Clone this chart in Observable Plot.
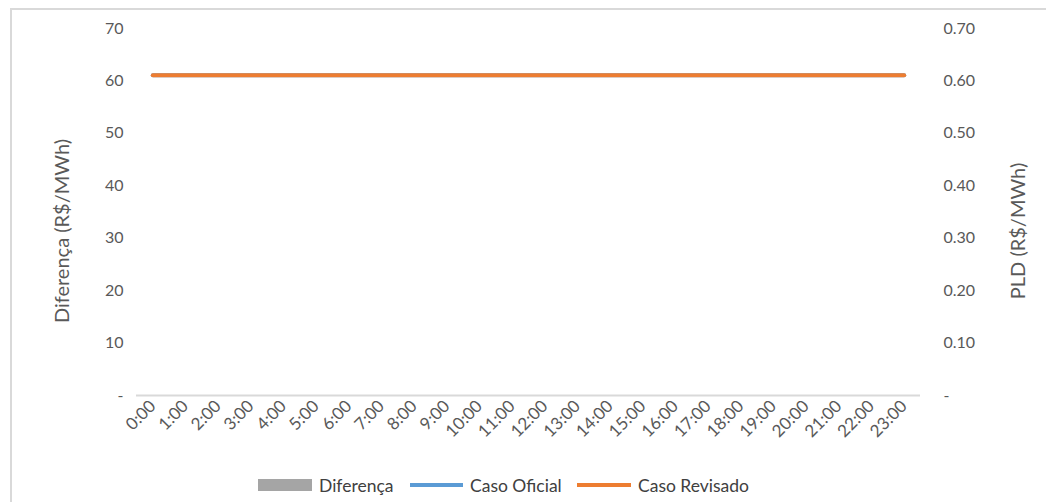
<!DOCTYPE html>
<html>
<head>
<meta charset="utf-8">
<script src="https://cdn.jsdelivr.net/npm/d3@7"></script>
<script src="https://cdn.jsdelivr.net/npm/@observablehq/plot@0.6"></script>
<style>
  html, body { margin: 0; padding: 0; background: #fff; }
  #wrap { position: relative; width: 1046px; height: 502px; overflow: hidden; font-family: Lato, sans-serif; }
  #frame { position: absolute; left: 10px; top: 8px; width: 1100px; height: 600px; border: 2px solid #d9d9d9; box-sizing: border-box; }
  #chart { position: absolute; left: 0; top: 0; }
  #legend { position: absolute; top: 473px; left: 0; width: 1046px; height: 24px; font-size: 17.5px; color: #404040; }
  .li { position: absolute; top: 0; display: flex; align-items: center; height: 24px; }
  .sw { display: inline-block; margin-right: 7px; }
</style>
</head>
<body>
<div id="wrap">
  <div id="frame"></div>
  <div id="chart"></div>
  <div id="legend">
    <div class="li" style="left:258px"><span class="sw" style="width:54px;height:12px;background:#a5a5a5"></span>Diferença</div>
    <div class="li" style="left:410px"><span class="sw" style="width:53px;height:4px;background:#5b9bd5"></span>Caso Oficial</div>
    <div class="li" style="left:577px"><span class="sw" style="width:54px;height:4px;background:#ed7d31"></span>Caso Revisado</div>
  </div>
</div>
<script>
const hours = ["0:00","1:00","2:00","3:00","4:00","5:00","6:00","7:00","8:00","9:00","10:00","11:00",
  "12:00","13:00","14:00","15:00","16:00","17:00","18:00","19:00","20:00","21:00","22:00","23:00"];
const diferenca = [0,0,0,0,0,0,0,0,0,0,0,0,0,0,0,0,0,0,0,0,0,0,0,0];
const casoOficial = [0.611,0.611,0.611,0.611,0.611,0.611,0.611,0.611,0.611,0.611,0.611,0.611,
  0.611,0.611,0.611,0.611,0.611,0.611,0.611,0.611,0.611,0.611,0.611,0.611];
const casoRevisado = [0.611,0.611,0.611,0.611,0.611,0.611,0.611,0.611,0.611,0.611,0.611,0.611,
  0.611,0.611,0.611,0.611,0.611,0.611,0.611,0.611,0.611,0.611,0.611,0.611];
const leftTicks = [0,10,20,30,40,50,60,70];
const leftTitle = "Diferença (R$/MWh)";
const rightTitle = "PLD (R$/MWh)";

const ratio = 100; // right axis (PLD) = left axis / 100
const barData = hours.map((h, i) => ({h, v: diferenca[i]}));
const ofData = hours.map((h, i) => ({h, v: casoOficial[i] * ratio}));
const revData = hours.map((h, i) => ({h, v: casoRevisado[i] * ratio}));

const chart = Plot.plot({
  width: 1046,
  height: 460,
  marginLeft: 136,
  marginRight: 126,
  marginTop: 28,
  marginBottom: 65,
  style: {fontFamily: "Lato, sans-serif", fontSize: "16px", color: "#595959", background: "transparent"},
  x: {type: "band", domain: hours, paddingInner: 0.4, paddingOuter: 0.2, round: false},
  y: {domain: [0, 70], nice: false},
  marks: [
    Plot.barY(barData, {x: "h", y: "v", fill: "#a5a5a5"}),
    Plot.ruleY([0], {stroke: "#d9d9d9", strokeWidth: 2}),
    Plot.lineY(ofData, {x: "h", y: "v", stroke: "#5b9bd5", strokeWidth: 4}),
    Plot.lineY(revData, {x: "h", y: "v", stroke: "#ed7d31", strokeWidth: 4}),
    Plot.axisX({tickRotate: -45, tickSize: 0, tickPadding: 8, fontSize: 17, label: null, fill: "#595959"}),
    Plot.axisY({anchor: "left", ticks: leftTicks, tickSize: 0, tickPadding: 13,
      tickFormat: d => d === 0 ? "-" : String(d), label: null, fontSize: 16}),
    Plot.axisY({anchor: "right", ticks: leftTicks, tickSize: 0, tickPadding: 23,
      tickFormat: d => d === 0 ? "-" : (d / ratio).toFixed(2), textAnchor: "start", label: null, fontSize: 16}),
    Plot.text([leftTitle], {frameAnchor: "left", textAnchor: "middle", dx: -74, dy: 19, rotate: -90, fontSize: 20, fill: "#595959"}),
    Plot.text([rightTitle], {frameAnchor: "right", textAnchor: "middle", dx: 98, dy: 19, rotate: -90, fontSize: 20, fill: "#595959"})
  ]
});
document.getElementById("chart").appendChild(chart);
</script>
</body>
</html>
